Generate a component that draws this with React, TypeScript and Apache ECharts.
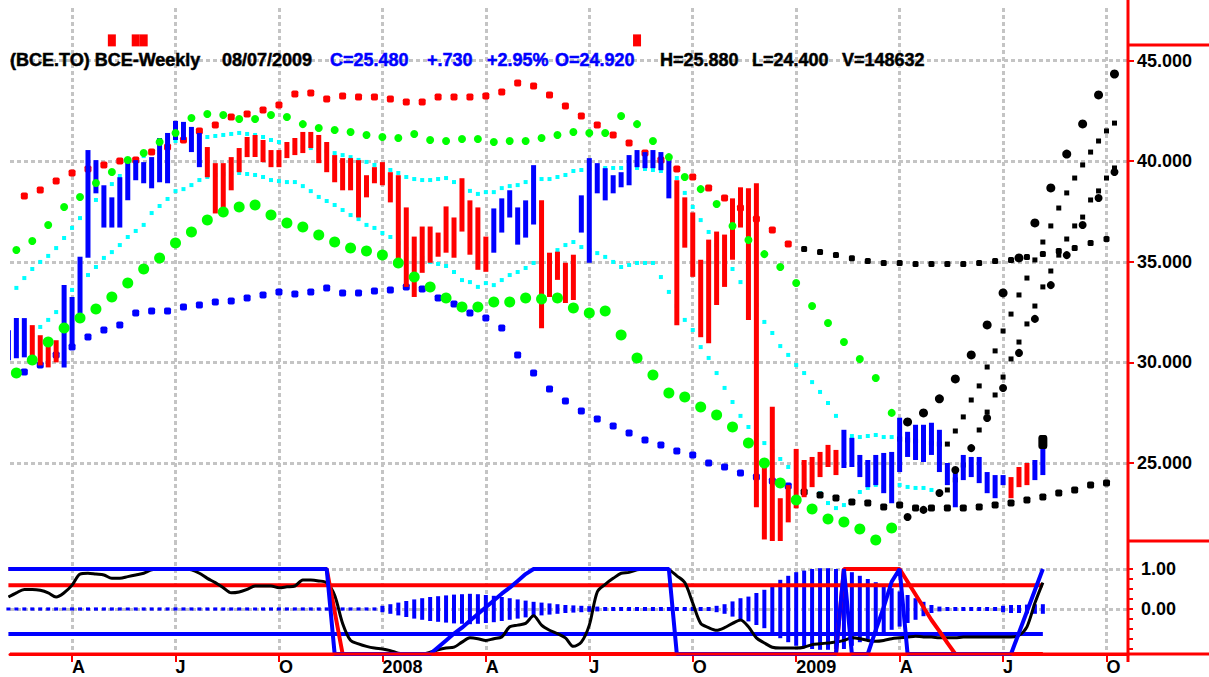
import { useEffect, useRef } from "react";
import * as echarts from "echarts";

const FONT = '"Liberation Sans", Arial, sans-serif';

// week index 0 = week ending 2007-02-09, 130 = week ending 2009-08-07
const quarterWeeks = [8, 21, 34, 47, 60, 73, 86, 99, 112, 125, 138];
const quarterLabels = ["A", "J", "O", "2008", "A", "J", "O", "2009", "A", "J", "O"];
const priceTicks = [25, 30, 35, 40, 45];
const oscLabelTicks = [0, 1];
const oscMinorTicks = [-1, -0.75, -0.5, -0.25, 0, 0.25, 0.5, 0.75, 1];

const weekHigh = [
  31.6, 32.2, 32.2, 31.85, 31.35, 31.1, 31.1, 33.85, 33.25, 35.25,
  40.55, 40.05, 38.8, 38.2, 39.2, 39.95, 40.05, 39.95, 40.2, 41.15,
  41.4, 42.0, 41.95, 41.7, 41.4, 40.7, 39.9, 39.9, 40.2, 40.65,
  41.2, 41.3, 41.05, 40.55, 40.55, 40.95, 41.15, 41.45, 41.45, 41.3,
  40.95, 40.3, 40.15, 40.15, 40.05, 39.3, 39.7, 39.95, 39.45, 39.3,
  37.7, 36.25, 36.75, 36.75, 36.45, 37.75, 37.2, 39.15, 38.05, 37.7,
  36.25, 37.65, 38.15, 38.55, 37.7, 38.05, 39.8, 38.05, 35.45, 35.5,
  34.95, 35.35, 38.3, 40.15, 39.9, 39.65, 39.3, 39.45, 40.3, 40.55,
  40.45, 40.55, 40.45, 40.2, 39.05, 38.2, 37.45, 35.1, 36.1, 36.5,
  36.35, 38.15, 38.7, 38.65, 38.9, 25.0, 27.8, 23.25, 23.9, 25.7,
  25.15, 25.3, 25.55, 25.9, 25.65, 26.65, 26.25, 25.4, 25.15, 25.4,
  25.5, 25.55, 27.25, 26.55, 26.9, 26.9, 27.0, 26.65, 25.0, 24.55,
  25.4, 25.3, 25.3, 24.55, 24.4, 24.4, 24.3, 24.8, 25.0, 25.15,
  25.88,
];
const weekLow = [
  30.1, 30.2, 30.25, 30.1, 29.85, 29.75, 30.0, 29.75, 30.75, 32.45,
  35.2, 38.4, 36.7, 36.7, 36.7, 38.05, 39.05, 38.9, 38.65, 38.95,
  38.9, 41.05, 41.05, 40.45, 39.7, 39.2, 37.4, 37.7, 38.55, 39.45,
  40.2, 40.2, 39.95, 39.7, 39.7, 40.15, 40.3, 40.4, 40.65, 39.9,
  39.45, 38.95, 38.55, 38.55, 37.2, 38.2, 38.9, 38.8, 37.95, 35.1,
  33.75, 33.25, 34.45, 34.95, 35.25, 35.45, 35.2, 36.5, 35.35, 34.6,
  34.5, 35.45, 36.45, 37.2, 35.85, 36.2, 36.85, 31.7, 33.25, 34.1,
  32.95, 33.1, 36.45, 34.95, 38.4, 38.05, 38.4, 38.7, 38.8, 39.7,
  39.65, 39.65, 39.55, 38.15, 31.85, 35.7, 34.25, 31.25, 30.95, 32.85,
  33.75, 35.1, 36.7, 32.1, 22.8, 21.2, 21.05, 21.05, 22.05, 22.75,
  23.3, 23.8, 24.3, 24.8, 24.4, 24.75, 24.8, 24.3, 23.8, 23.9,
  23.5, 23.0, 24.55, 25.3, 25.15, 25.05, 25.4, 24.55, 23.9, 22.8,
  24.15, 24.3, 24.0, 23.5, 23.25, 23.9, 23.25, 23.8, 23.9, 24.15,
  24.4,
];
const weekUp = [
  1, 1, 1, 0, 0, 0, 0, 1, 1, 1,
  1, 1, 1, 1, 1, 1, 1, 1, 1, 1,
  1, 1, 1, 1, 1, 0, 0, 0, 0, 0,
  0, 0, 0, 0, 0, 0, 0, 0, 0, 0,
  0, 0, 0, 0, 0, 0, 0, 0, 0, 0,
  0, 0, 0, 0, 0, 0, 0, 0, 0, 0,
  0, 1, 1, 1, 1, 1, 1, 0, 0, 0,
  0, 0, 1, 1, 1, 1, 1, 1, 1, 1,
  1, 1, 1, 1, 0, 0, 0, 0, 0, 0,
  0, 0, 0, 0, 0, 0, 0, 0, 0, 0,
  0, 0, 0, 0, 0, 1, 1, 1, 1, 1,
  1, 1, 1, 1, 1, 1, 1, 1, 1, 1,
  1, 1, 1, 1, 1, 1, 0, 0, 0, 1,
  1,
];

// dotted averages, plotted every second week (even weeks from 0, odd weeks from 1)
const redAvg = [37.72, 38.27, 38.57, 39.01, 39.41, 39.61, 39.81, 40.01, 40.06, 40.45, 40.7, 41.05, 41.5, 41.79, 42.19, 42.34, 42.54, 42.79, 43.34, 43.38, 43.09, 43.24, 43.19, 43.19, 43.09, 42.94, 42.94, 43.19, 43.19, 43.19, 43.24, 43.43, 43.88, 43.73, 43.29, 42.74, 42.24, 41.79, 41.3, 40.9, 40.4, 40.06, 39.61, 39.21, 38.66, 38.17, 37.67, 37.12, 36.58, 35.88];
const redProj = [35.63, 35.48, 35.33, 35.18, 35.04, 34.94, 34.94, 34.89, 34.89, 34.89, 34.89, 34.94, 35.04, 35.09, 35.24, 35.39, 35.53, 35.68, 35.93, 36.13];
const blueAvg = [29.22, 29.52, 29.87, 30.37, 30.76, 31.26, 31.61, 31.86, 32.45, 32.55, 32.55, 32.75, 32.85, 33.0, 33.05, 33.2, 33.35, 33.5, 33.4, 33.5, 33.7, 33.45, 33.45, 33.55, 33.6, 33.75, 33.65, 33.2, 32.9, 32.45, 32.21, 31.71, 30.37, 29.47, 28.68, 28.08, 27.58, 27.19, 26.84, 26.49, 26.14, 25.89, 25.6, 25.4, 25.0, 24.8, 24.5, 24.3, 24.11, 23.86];
const blueProj = [23.56, 23.41, 23.26, 23.06, 23.01, 22.81, 22.91, 22.76, 22.76, 22.76, 22.76, 22.81, 22.91, 23.01, 23.16, 23.31, 23.51, 23.66, 23.91, 24.01];
const greenBig = [29.47, 30.12, 31.01, 31.71, 32.21, 32.65, 33.25, 33.94, 34.64, 35.19, 35.93, 36.48, 37.07, 37.47, 37.72, 37.82, 37.32, 36.92, 36.73, 36.33, 35.98, 35.68, 35.53, 35.33, 34.94, 34.24, 33.75, 33.2, 32.75, 32.75, 33.0, 33.0, 33.2, 33.15, 33.2, 32.7, 32.45, 32.55, 31.36, 30.22, 29.37, 28.48, 28.28, 27.78, 27.38, 26.79, 25.99, 25.0, 24.01, 23.16, 22.71, 22.22, 22.07, 21.72, 21.17, 21.77];
const greenBigProj = [22.32, 22.67, 23.51, 24.65, 25.74, 27.24, 28.73, 30.47, 32.16, 33.84, 35.33, 36.83, 38.17, 39.46];
const greenTop = [35.58, 36.03, 36.83, 37.72, 38.22, 38.91, 39.46, 40.06, 40.4, 40.95, 41.4, 42.14, 42.34, 42.29, 42.09, 42.09, 42.29, 42.19, 41.84, 41.65, 41.55, 41.45, 41.3, 41.2, 41.15, 41.35, 41.05, 41.0, 41.1, 41.1, 40.95, 41.0, 41.0, 41.15, 41.3, 41.45, 41.4, 41.4, 42.24, 41.84, 41.0, 40.2, 39.21, 38.61, 37.87, 36.78, 36.08, 35.38, 34.74, 33.94, 32.8, 31.96, 31.01, 30.17, 29.22, 27.49];
const greenTopProj = [27.04, 27.49, 28.19, 29.18, 30.37, 31.86, 33.45, 35.19, 36.93, 38.67, 40.35, 41.85, 43.29, 44.33];

// weekly cyan bands
const cyanUpper = [
  33.7, 34.19, 34.64, 34.99, 35.29, 35.68, 36.18, 36.68, 37.17, 37.62,
  38.07, 38.46, 38.86, 39.26, 39.61, 39.96, 40.25, 40.5, 40.7, 40.85,
  41.0, 41.1, 41.15, 41.2, 41.2, 41.25, 41.3, 41.35, 41.4, 41.35,
  41.3, 41.2, 41.05, 40.95, 40.85, 40.75, 40.7, 40.65, 40.55, 40.5,
  40.4, 40.3, 40.2, 40.06, 39.96, 39.81, 39.71, 39.56, 39.41, 39.21,
  39.11, 39.06, 39.06, 39.11, 39.16, 38.96, 38.76, 38.52, 38.37, 38.46,
  38.46, 38.66, 38.76, 38.81, 38.96, 39.06, 39.11, 39.11, 39.21, 39.31,
  39.51, 39.56, 39.61, 39.66, 39.66, 39.66, 39.66, 39.66, 39.66, 39.61,
  39.56, 39.51, 39.41, 39.16, 38.42, 37.72, 37.07, 36.48, 35.83, 35.24,
  34.64, 33.99, 33.5, 32.85, 32.01, 31.46, 30.81, 30.37, 29.87, 29.47,
  29.02, 28.53, 27.98, 27.34, 26.49, 26.34, 26.29, 26.34, 26.39, 26.29, 26.29,
];
const cyanUpperProj = [26.19, 26.14, 26.09, 26.04, 25.99, 25.94, 25.94, 26.59, 27.29, 28.13, 28.83, 29.77, 30.57, 31.56, 32.4, 33.35, 34.19, 35.09, 35.98, 36.78, 37.67, 38.42, 39.16, 39.81, 40.45, 41.0, 41.5, 41.89];
const cyanLower = [
  30.62, 30.76, 30.96, 31.36, 31.76, 32.11, 32.5, 33.1, 33.6, 33.99,
  34.34, 34.74, 35.19, 35.48, 35.83, 36.23, 36.53, 36.83, 37.42, 37.77,
  38.12, 38.51, 38.61, 38.81, 39.06, 39.21, 39.31, 39.36, 39.41, 39.41,
  39.36, 39.31, 39.21, 39.06, 39.01, 38.96, 38.96, 38.76, 38.51, 38.22,
  38.02, 37.82, 37.57, 37.32, 37.12, 36.83, 36.68, 36.43, 36.23, 35.93,
  35.63, 35.38, 35.19, 34.99, 34.89, 34.79, 34.49, 34.09, 33.99, 33.75,
  33.94, 33.84, 34.09, 34.34, 34.49, 34.69, 34.94, 35.09, 35.24, 35.58,
  35.83, 35.98, 35.73, 35.58, 35.43, 35.24, 34.99, 34.74, 34.84, 34.94,
  34.94, 34.94, 34.24, 33.5, 32.8, 32.11, 31.61, 30.76, 30.22, 29.47,
  28.73, 28.03, 27.34, 26.79, 26.39, 25.99, 25.6, 25.2, 24.8, 24.35,
  24.16, 23.91, 23.51, 23.01, 22.76, 22.91, 23.06, 23.56, 23.76, 23.91,
  23.81, 23.86, 23.91, 23.81, 23.76, 23.76, 23.66, 23.56,
];
const cyanLowerProj = [23.66, 24.16, 24.9, 25.74, 26.64, 27.53, 28.38, 29.27, 30.17, 31.01, 31.91, 32.8, 33.75, 34.54, 35.33, 36.13, 36.78, 37.22, 38.07, 38.52, 39.16, 39.66];

const signalWeeks = [13, 16, 17, 79];
const signalLevel = 46.0;
const lastMarker = 26.04;

// lower panel
const oscHist = [
  0.04, 0.04, 0.04, 0.04, 0.04, 0.04, 0.04, 0.04, 0.04, 0.04,
  0.04, 0.04, 0.04, 0.04, 0.04, 0.04, 0.04, 0.04, 0.04, 0.04,
  0.04, 0.04, 0.04, 0.04, 0.04, 0.04, 0.04, 0.04, 0.04, 0.04,
  0.04, 0.04, 0.04, 0.04, 0.04, 0.04, 0.04, 0.04, 0.04, 0.04,
  0.04, 0.04, 0.04, 0.04, 0.04, 0.04, 0.04,
  0.08, 0.12, 0.16, 0.2, 0.24, 0.27, 0.3, 0.32, 0.34, 0.36, 0.37, 0.38, 0.37, 0.35,
  0.33, 0.3, 0.27, 0.24, 0.21, 0.18, 0.16, 0.14, 0.12, 0.1, 0.09, 0.08, 0.07, 0.06,
  0.05, 0.05, 0.05, 0.05, 0.05, 0.05, 0.05, 0.05, 0.05, 0.05, 0.05, 0.05, 0.05, 0.05,
  0.08, 0.12, 0.19, 0.27, 0.31, 0.4, 0.48, 0.58, 0.73, 0.83, 0.92, 0.96, 1.0, 1.02, 1.02, 1.0, 1.0,
  0.92, 0.83, 0.75, 0.67, 0.6, 0.52, 0.44, 0.35, 0.27, 0.18, 0.1, 0.06,
  0.05, 0.05, 0.05, 0.05, 0.05, 0.05, 0.05,
  0.08, 0.1, 0.1, 0.11, 0.12, 0.12,
];
const stoch = [
  0.67, 0.72, 0.76, 0.76, 0.75, 0.72, 0.67, 0.72, 0.81, 0.94,
  0.95, 0.94, 0.93, 0.89, 0.89, 0.91, 0.93, 0.95, 0.99, 1,
  1, 1, 1, 0.99, 0.95, 0.89, 0.84, 0.78, 0.72, 0.73,
  0.76, 0.8, 0.8, 0.8, 0.78, 0.79, 0.8, 0.87, 0.87, 0.86,
  0.84, 0.69, 0.36, 0.16, 0.12, 0.09, 0.07, 0.06, 0.04, 0.01,
  0, 0, 0, 0.02, 0.05, 0.07, 0.08, 0.14, 0.19, 0.18,
  0.16, 0.18, 0.2, 0.32, 0.34, 0.36, 0.45, 0.34, 0.28, 0.24,
  0.19, 0.09, 0.14, 0.34, 0.73, 0.82, 0.89, 0.95, 0.96, 0.99,
  1, 1, 1, 0.99, 0.92, 0.84, 0.6, 0.36, 0.31, 0.28,
  0.31, 0.36, 0.4, 0.32, 0.19, 0.13, 0.08, 0.07, 0.07, 0.07,
  0.08, 0.11, 0.12, 0.13, 0.14, 0.16, 0.19, 0.18, 0.16, 0.15,
  0.16, 0.18, 0.19, 0.2, 0.21, 0.2, 0.2, 0.19, 0.19, 0.19,
  0.2, 0.2, 0.2, 0.2, 0.2, 0.2, 0.2, 0.22, 0.32, 0.6,
  0.84,
];
const blueSignal = [
  1, 1, 1, 1, 1, 1, 1, 1, 1, 1, 1, 1, 1, 1, 1, 1, 1, 1, 1, 1,
  1, 1, 1, 1, 1, 1, 1, 1, 1, 1, 1, 1, 1, 1, 1, 1, 1, 1, 1, 1, 1,
  0, 0, 0, 0, 0, 0, 0, 0, 0, 0, 0, 0, 0,
  0.08, 0.16, 0.24, 0.31, 0.39, 0.47, 0.55, 0.63, 0.71, 0.78, 0.86, 0.94,
  1, 1, 1, 1, 1, 1, 1, 1, 1, 1, 1, 1, 1, 1, 1, 1, 1, 1,
  0, 0, 0, 0, 0, 0, 0, 0, 0, 0, 0, 0, 0, 0, 0, 0, 0, 0, 0, 0, 0,
  1, 0, 0, 0, 0.28, 0.55, 0.85, 1,
  0, 0, 0, 0, 0, 0, 0, 0, 0, 0, 0, 0, 0, 0,
  0.25, 0.5, 0.75, 1,
];
const redSignal = [
  1, 1, 1, 1, 1, 1, 1, 1, 1, 1, 1, 1, 1, 1, 1, 1, 1, 1, 1, 1,
  1, 1, 1, 1, 1, 1, 1, 1, 1, 1, 1, 1, 1, 1, 1, 1, 1, 1, 1, 1, 1,
  0.5,
  0, 0, 0, 0, 0, 0, 0, 0, 0, 0, 0, 0, 0, 0, 0, 0, 0, 0, 0, 0, 0,
  0, 0, 0, 0, 0, 0, 0, 0, 0, 0, 0, 0, 0, 0, 0, 0, 0, 0, 0, 0, 0,
  0, 0, 0, 0, 0, 0, 0, 0, 0, 0, 0, 0, 0, 0, 0, 0, 0, 0, 0, 0, 0,
  1, 1, 1, 1, 1, 1, 1, 1,
  0.85, 0.7, 0.55, 0.4, 0.27, 0.13,
  0, 0, 0, 0, 0, 0, 0, 0, 0, 0, 0, 0,
];
const upperLevel = 0.81;
const lowerLevel = 0.235;

const header = [
  { t: "(BCE.TO) BCE-Weekly", x: 10, c: "#000000" },
  { t: "08/07/2009", x: 222, c: "#000000" },
  { t: "C=25.480", x: 330, c: "#0000ff" },
  { t: "+.730", x: 427, c: "#0000ff" },
  { t: "+2.95%", x: 487, c: "#0000ff" },
  { t: "O=24.920", x: 555, c: "#0000ff" },
  { t: "H=25.880", x: 660, c: "#000000" },
  { t: "L=24.400", x: 752, c: "#000000" },
  { t: "V=148632", x: 842, c: "#000000" },
];

const byStep = (start: number, step: number, vals: number[]) =>
  vals.map((v, i) => [start + step * i, v]);

const RED = "#ff0000";
const BLUE = "#0000ff";
const GREEN = "#00ff00";
const CYAN = "#00ffff";
const BLACK = "#000000";
const GRID_LINE = { color: "#c4c4c4", width: 3, type: [4, 3] as any };

function dots(name: string, data: number[][], color: string, size: any, symbol: string, z: number) {
  return {
    name,
    type: "scatter",
    xAxisIndex: 0,
    yAxisIndex: 0,
    data,
    symbol,
    symbolSize: size,
    itemStyle: { color, opacity: 1 },
    z,
    silent: true,
  };
}

export default function App() {
  const ref = useRef<HTMLDivElement>(null);
  useEffect(() => {
    const chart = echarts.init(ref.current!, null, { renderer: "svg" });
    const barData = weekHigh.map((h, i) => [i, h, weekLow[i], weekUp[i]]);
    const histData = oscHist.map((a, i) => [i, a]);
    const labelStyle = { color: "#000", fontWeight: "bold", fontSize: 18, fontFamily: FONT };

    const option: any = {
      animation: false,
      backgroundColor: "#ffffff",
      grid: [
        { left: 10, right: 81, top: 8, height: 533, outerBoundsMode: "none", containLabel: false },
        { left: 10, right: 81, top: 541, height: 113, outerBoundsMode: "none", containLabel: false },
      ],
      xAxis: [
        {
          type: "value", gridIndex: 0, min: 0.2, max: 140.7,
          axisLine: { show: false }, axisLabel: { show: false },
          axisTick: { show: false, customValues: quarterWeeks },
          splitLine: { show: true, lineStyle: GRID_LINE },
        },
        {
          type: "value", gridIndex: 1, min: 0.2, max: 140.7, position: "bottom",
          axisLine: { show: true, onZero: false, lineStyle: { color: RED, width: 3 } },
          axisTick: { show: true, customValues: quarterWeeks, length: 8, lineStyle: { color: RED, width: 2 } },
          axisLabel: {
            show: true, customValues: quarterWeeks, align: "left", margin: 4, ...labelStyle,
            formatter: (v: number) => {
              const i = quarterWeeks.indexOf(Math.round(v));
              return i >= 0 ? quarterLabels[i] : "";
            },
          },
          splitLine: { show: true, lineStyle: GRID_LINE },
        },
      ],
      yAxis: [
        {
          type: "value", gridIndex: 0, position: "right", min: 21.124, max: 47.609,
          axisLine: { show: false },
          axisTick: { show: true, customValues: priceTicks, length: 6, lineStyle: { color: RED, width: 2 } },
          axisLabel: { show: true, customValues: priceTicks, margin: 9, ...labelStyle, formatter: (v: number) => v.toFixed(3) },
          splitLine: { show: true, lineStyle: GRID_LINE },
        },
        {
          type: "value", gridIndex: 1, position: "right", min: -1.125, max: 1.7,
          axisLine: { show: false },
          axisTick: { show: true, customValues: oscMinorTicks, length: 5, lineStyle: { color: RED, width: 2 } },
          axisLabel: { show: true, customValues: oscLabelTicks, margin: 13, ...labelStyle, formatter: (v: number) => v.toFixed(2) },
          splitLine: { show: false },
        },
        {
          type: "value", gridIndex: 1, min: 0, max: 113 / 85, show: false,
        },
        {
          type: "value", gridIndex: 1, position: "right", min: -1.125, max: 1.7,
          axisLine: { show: false }, axisLabel: { show: false },
          axisTick: { show: false, customValues: oscLabelTicks },
          splitLine: { show: true, lineStyle: GRID_LINE },
        },
      ],
      graphic: {
        elements: [
          ...header.map((h) => ({
            type: "text", x: h.x, y: 60, z: 50,
            style: {
              text: h.t, fill: h.c, stroke: h.c, lineWidth: 0.5,
              font: `bold 18px ${FONT}`, verticalAlign: "middle", textVerticalAlign: "middle",
            },
          })),
          { type: "line", z: 100, shape: { x1: 1128, y1: 0, x2: 1128, y2: 662 }, style: { stroke: RED, lineWidth: 3 } },
          { type: "line", z: 100, shape: { x1: 1128, y1: 45, x2: 1209, y2: 45 }, style: { stroke: RED, lineWidth: 3 } },
          { type: "line", z: 100, shape: { x1: 1128, y1: 541, x2: 1209, y2: 541 }, style: { stroke: RED, lineWidth: 3 } },
          { type: "line", z: 100, shape: { x1: 10, y1: 654, x2: 1209, y2: 654 }, style: { stroke: RED, lineWidth: 3 } },
        ],
      },
      series: [
        dots("cyanUpper", byStep(1, 1, cyanUpper), CYAN, 4, "rect", 2),
        dots("cyanUpperProj", byStep(112, 1, cyanUpperProj), BLACK, 5, "rect", 2),
        dots("cyanLower", byStep(0, 1, cyanLower), CYAN, 4, "rect", 2),
        dots("cyanLowerProj", byStep(118, 1, cyanLowerProj), BLACK, 5, "rect", 2),
        dots("blueAvg", byStep(0, 2, blueAvg), BLUE, 7, "roundRect", 2),
        dots("blueProj", byStep(100, 2, blueProj), BLACK, 7, "roundRect", 2),
        dots("redAvg", byStep(0, 2, redAvg), RED, 7, "roundRect", 2),
        dots("redProj", byStep(100, 2, redProj), BLACK, 6, "roundRect", 2),
        {
          name: "bars",
          type: "custom",
          xAxisIndex: 0, yAxisIndex: 0,
          data: barData,
          encode: { x: 0, y: [1, 2] },
          z: 5,
          clip: true,
          silent: true,
          renderItem: (_p: any, api: any) => {
            const k = api.value(0);
            const top = api.coord([k, api.value(1)]);
            const bot = api.coord([k, api.value(2)]);
            const w = 5;
            return {
              type: "rect",
              shape: { x: top[0] - w / 2, y: top[1], width: w, height: Math.max(bot[1] - top[1], 2) },
              style: { fill: api.value(3) ? BLUE : RED },
            };
          },
        },
        dots("greenTop", byStep(1, 2, greenTop), GREEN, 8, "circle", 6),
        dots("greenTopProj", byStep(113, 2, greenTopProj), BLACK, 9, "circle", 6),
        dots("greenBig", byStep(1, 2, greenBig), GREEN, 11, "circle", 6),
        dots("greenBigProj", byStep(113, 2, greenBigProj), BLACK, 8, "circle", 6),
        dots("signals", signalWeeks.map((w) => [w, signalLevel]), RED, [8, 12], "rect", 6),
        dots("last", [[weekHigh.length - 1, lastMarker]], BLACK, [9, 14], "roundRect", 7),
        // lower panel
        {
          name: "hist",
          type: "custom",
          xAxisIndex: 1, yAxisIndex: 1,
          data: histData,
          encode: { x: 0, y: 1 },
          z: 3,
          silent: true,
          renderItem: (_p: any, api: any) => {
            const k = api.value(0);
            const a = api.value(1);
            const top = api.coord([k, a]);
            const bot = api.coord([k, -a]);
            const w = 4;
            const h = Math.max(bot[1] - top[1], 3);
            const cy = (top[1] + bot[1]) / 2;
            return {
              type: "rect",
              shape: { x: top[0] - w / 2, y: cy - h / 2, width: w, height: h },
              style: { fill: BLUE },
            };
          },
        },
        {
          name: "lowerLevel", type: "line", xAxisIndex: 1, yAxisIndex: 2,
          data: [[0, lowerLevel], [weekHigh.length - 1, lowerLevel]],
          showSymbol: false, symbol: "none", lineStyle: { color: BLUE, width: 4 }, z: 4, silent: true, clip: false,
        },
        {
          name: "upperLevel", type: "line", xAxisIndex: 1, yAxisIndex: 2,
          data: [[0, upperLevel], [weekHigh.length - 1, upperLevel]],
          showSymbol: false, symbol: "none", lineStyle: { color: RED, width: 4 }, z: 4, silent: true, clip: false,
        },
        {
          name: "stoch", type: "line", xAxisIndex: 1, yAxisIndex: 2,
          data: byStep(0, 1, stoch), smooth: 0.3,
          showSymbol: false, symbol: "none", lineStyle: { color: BLACK, width: 3 }, z: 5, silent: true,
        },
        {
          name: "redSignal", type: "line", xAxisIndex: 1, yAxisIndex: 2,
          data: byStep(0, 1, redSignal),
          showSymbol: false, symbol: "none", lineStyle: { color: RED, width: 4 }, z: 6, silent: true, clip: false,
        },
        {
          name: "blueSignal", type: "line", xAxisIndex: 1, yAxisIndex: 2,
          data: byStep(0, 1, blueSignal),
          showSymbol: false, symbol: "none", lineStyle: { color: BLUE, width: 4 }, z: 7, silent: true, clip: false,
        },
      ],
    };
    chart.setOption(option);
    return () => chart.dispose();
  }, []);
  return (
    <div
      ref={ref}
      style={{ position: "absolute", left: 0, top: 0, width: 1209, height: 677, background: "#ffffff" }}
    />
  );
}
